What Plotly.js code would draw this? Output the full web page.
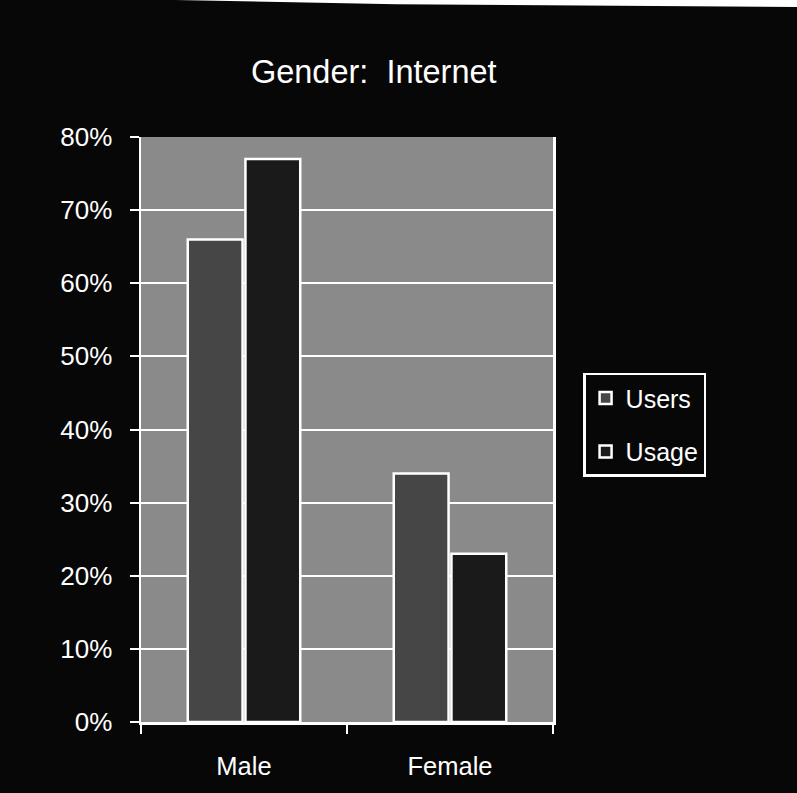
<!DOCTYPE html>
<html>
<head>
<meta charset="utf-8">
<script src="https://cdn.plot.ly/plotly-3.0.1.min.js"></script>
<style>
  html, body { margin: 0; padding: 0; background: #070707; }
  #chart { width: 797px; height: 793px; }
</style>
</head>
<body>
<div id="chart"></div>
<script>
// Data
const categories = ["Male", "Female"];
const usersValues = [0.66, 0.34];
const usageValues = [0.77, 0.23];
const seriesNames = ["Users", "Usage"];
const yTickValues = [0, 0.1, 0.2, 0.3, 0.4, 0.5, 0.6, 0.7, 0.8];
const yTickLabels = ["0%", "10%", "20%", "30%", "40%", "50%", "60%", "70%", "80%"];
const chartTitle = "Gender:\u00a0 Internet";

const fontFamily = "'Liberation Sans', Arial, sans-serif";

const traces = [
  {
    type: "bar",
    name: seriesNames[0],
    x: categories,
    y: usersValues,
    legendgroup: "g1",
    marker: { color: "#464646", line: { color: "#ffffff", width: 2.5 } },
    hoverinfo: "skip"
  },
  {
    type: "bar",
    name: seriesNames[1],
    x: categories,
    y: usageValues,
    legendgroup: "g2",
    marker: { color: "#1a1a1a", line: { color: "#ffffff", width: 2.5 } },
    hoverinfo: "skip"
  }
];

const layout = {
  width: 797,
  height: 793,
  paper_bgcolor: "#070707",
  plot_bgcolor: "#8a8a8a",
  margin: { l: 141, r: 244, t: 137, b: 71, pad: 0 },
  barmode: "group",
  bargap: 0.44,
  bargroupgap: 0.05,
  font: { family: fontFamily, color: "#ffffff", size: 24 },
  title: {
    text: chartTitle,
    font: { family: fontFamily, size: 32.5, color: "#ffffff" },
    xref: "paper",
    x: 0.565,
    xanchor: "center",
    yref: "container",
    y: 0.910,
    yanchor: "middle"
  },
  xaxis: {
    type: "category",
    showgrid: false,
    showline: true,
    linecolor: "#ffffff",
    linewidth: 2.5,
    ticks: "outside",
    tickson: "boundaries",
    ticklen: 9,
    tickwidth: 2,
    tickcolor: "#ffffff",
    ticklabelstandoff: 20,
    tickfont: { family: fontFamily, size: 25.5, color: "#ffffff" },
    zeroline: false,
    fixedrange: true
  },
  yaxis: {
    range: [0, 0.8],
    tickvals: yTickValues,
    ticktext: yTickLabels,
    showgrid: true,
    gridcolor: "#ffffff",
    gridwidth: 2,
    showline: true,
    linecolor: "#ffffff",
    linewidth: 2.5,
    mirror: true,
    ticks: "outside",
    ticklen: 9,
    tickwidth: 2,
    tickcolor: "#ffffff",
    ticklabelstandoff: 12,
    tickfont: { family: fontFamily, size: 26, color: "#ffffff" },
    zeroline: false,
    fixedrange: true
  },
  showlegend: true,
  legend: {
    x: 1.073,
    xanchor: "left",
    y: 0.597,
    yanchor: "top",
    bgcolor: "#070707",
    bordercolor: "#ffffff",
    borderwidth: 2.5,
    font: { family: fontFamily, size: 25, color: "#ffffff" },
    traceorder: "grouped",
    tracegroupgap: 18,
    itemwidth: 30
  },
  shapes: [
    {
      type: "path",
      xref: "paper",
      yref: "paper",
      path: "M -0.35,1.24 L 0.62,1.227 L 1.6,1.222 L 1.6,1.25 L -0.35,1.25 Z",
      fillcolor: "#ffffff",
      line: { width: 0 },
      layer: "above"
    }
  ]
};

Plotly.newPlot("chart", traces, layout, { displayModeBar: false, staticPlot: true });
</script>
</body>
</html>
